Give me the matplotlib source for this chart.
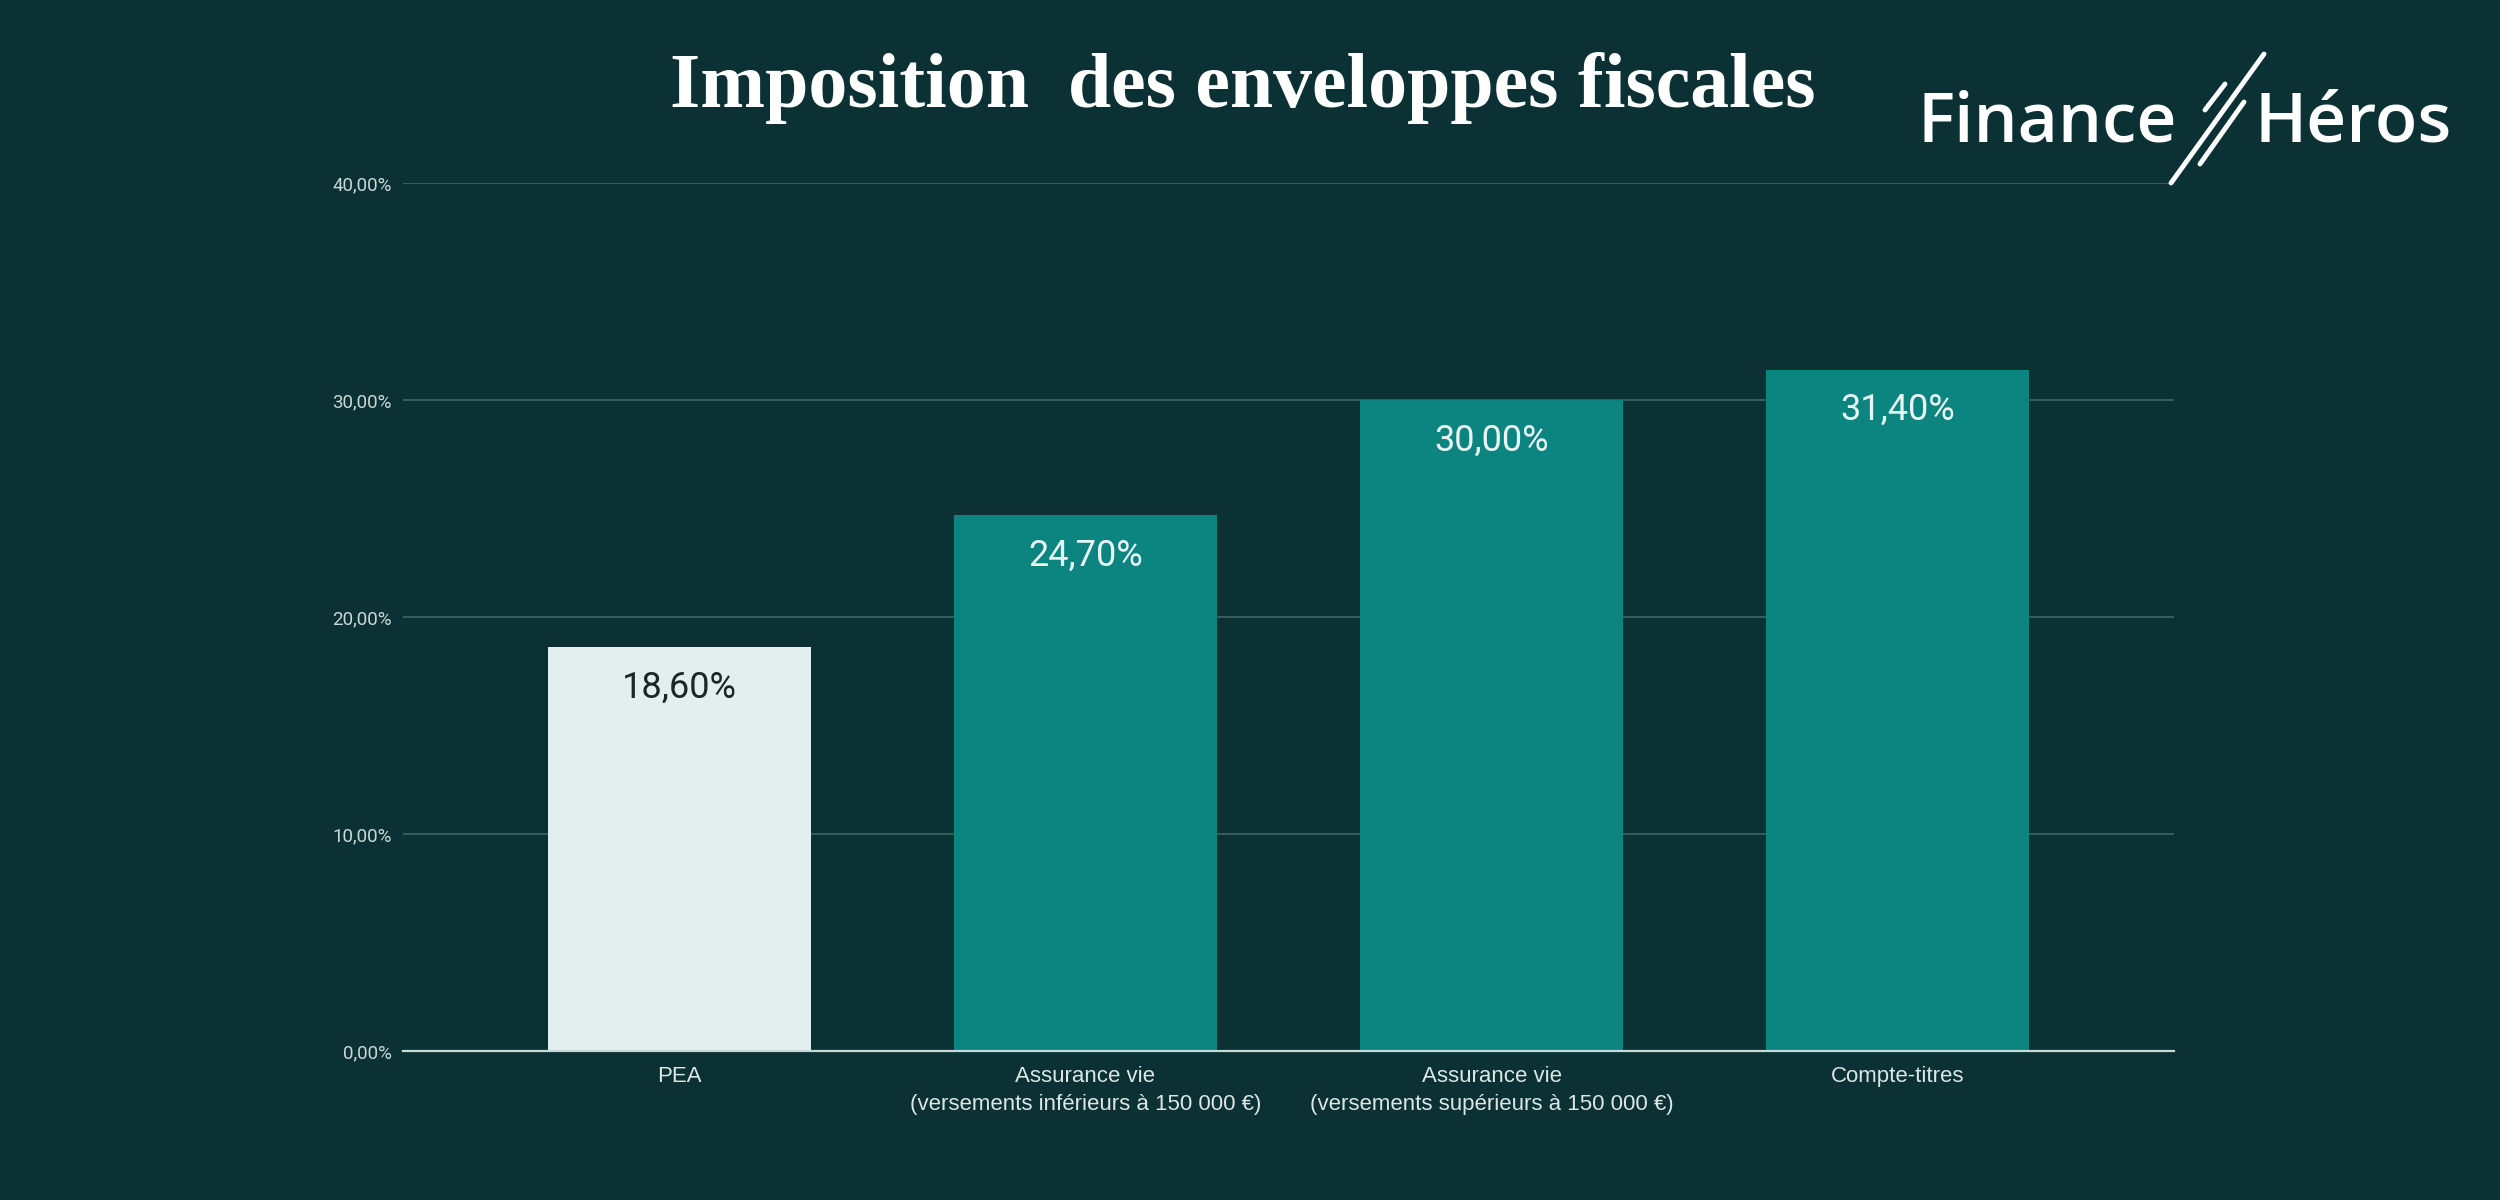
"""Imposition des enveloppes fiscales - bar chart, Finance Héros style."""
import matplotlib
matplotlib.use("Agg")
import matplotlib.pyplot as plt
from matplotlib.lines import Line2D

BG = "#0b3134"
TEAL = "#0c8480"
PALE = "#e2efee"
GRID = "#3f6463"
TICK_TXT = "#c9d8d7"

categories = [
    "PEA",
    "Assurance vie\n(versements inférieurs à 150 000 €)",
    "Assurance vie\n(versements supérieurs à 150 000 €)",
    "Compte-titres",
]
rates = [18.6, 24.7, 30.0, 31.4]
value_labels = ["18,60%", "24,70%", "30,00%", "31,40%"]
y_ticks = [0, 10, 20, 30, 40]
y_tick_labels = ["0,00%", "10,00%", "20,00%", "30,00%", "40,00%"]

W, H = 2500, 1200


def px(x, y):
    # pixel coords (top-left origin) -> figure fraction
    return x / W, 1 - y / H


fig = plt.figure(figsize=(25, 12), dpi=100, facecolor=BG)
ax = fig.add_axes([403 / W, 1 - 1051 / H, (2174 - 403) / W, (1051 - 183) / H])
ax.set_facecolor(BG)

xs = list(range(len(categories)))
colors = [PALE, TEAL, TEAL, TEAL]
ax.bar(xs, rates, width=0.647, color=colors, zorder=3)

for x, r, lab, c in zip(xs, rates, value_labels, colors):
    ax.annotate(lab, (x, r), xytext=(0, -29), textcoords="offset points",
                ha="center", va="center", fontsize=26, family="Roboto",
                color="#1b2626" if c == PALE else "#e9f5f3", zorder=4)

ax.set_xlim(-0.68, 3.68)
ax.set_ylim(0, 40)
ax.set_yticks(y_ticks)
ax.set_yticklabels(y_tick_labels, family="Roboto", fontsize=13.5, color=TICK_TXT)
ax.set_xticks(xs)
ax.set_xticklabels(categories, family="Liberation Sans", fontsize=16,
                   color="#dbe6e5", linespacing=1.45)
ax.tick_params(axis="both", length=0)
ax.tick_params(axis="y", pad=8)
ax.tick_params(axis="x", pad=11)
ax.grid(axis="y", color=GRID, linewidth=1.2, zorder=0)
for s in ["top", "right", "left"]:
    ax.spines[s].set_visible(False)
ax.spines["bottom"].set_color("#c4dad7")
ax.spines["bottom"].set_linewidth(1.6)
ax.spines["bottom"].set_zorder(5)

# title
fig.text(*px(1243, 88), "Imposition  des enveloppes fiscales", ha="center",
         va="center", family="Liberation Serif", fontweight="bold",
         fontsize=56, color="white")

# logo
fig.text(*px(1918, 142), "Finance", ha="left", va="baseline", family="Open Sans",
         fontweight="semibold", fontsize=50, color="white")
fig.text(*px(2452, 142), "Héros", ha="right", va="baseline", family="Open Sans",
         fontweight="semibold", fontsize=50, color="white")
for (x0, y0), (x1, y1) in [((2171, 183), (2264, 54)),
                           ((2200, 164), (2244, 102)),
                           ((2205, 110), (2225, 84))]:
    a, b = px(x0, y0)
    c, d = px(x1, y1)
    fig.add_artist(Line2D([a, c], [b, d], color="white", linewidth=3.5,
                          solid_capstyle="round", transform=fig.transFigure))

fig.savefig("out.png", dpi=100, facecolor=BG)
